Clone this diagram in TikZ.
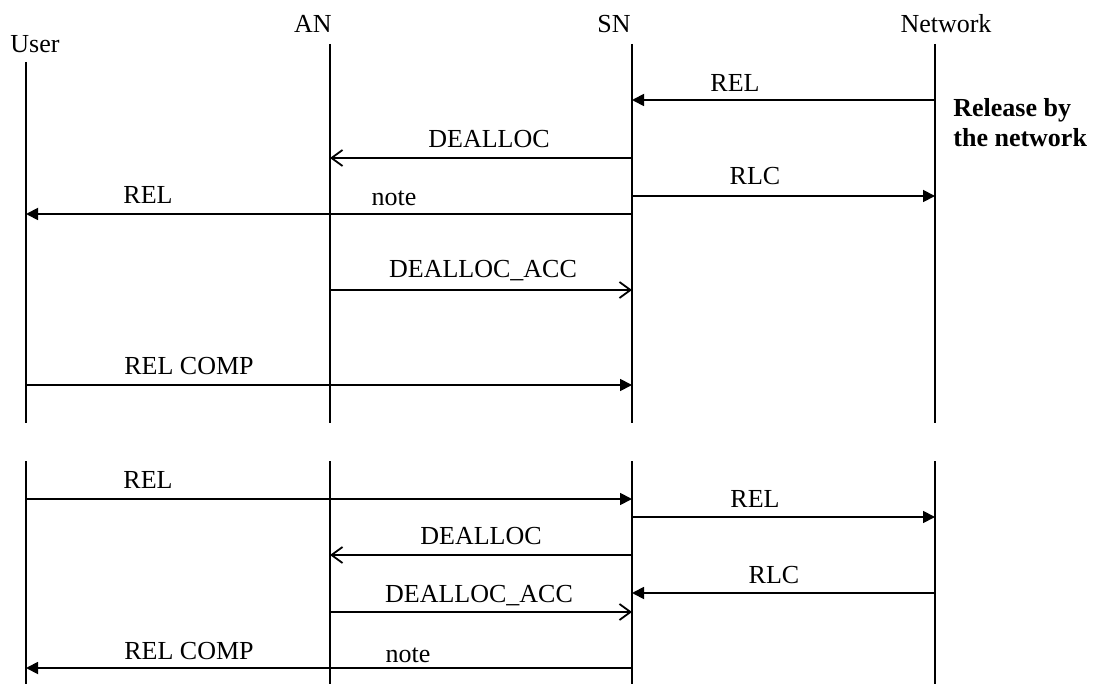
\documentclass[tikz,border=0pt]{standalone}
\usepackage{fontspec}
\setmainfont{Liberation Serif}
\usetikzlibrary{arrows.meta,calc}
\tikzset{
 life/.style={line width=1.1pt},
 msg/.style={line width=0.9pt,-{Triangle[length=6pt,width=6pt]}},
 ack/.style={line width=0.9pt,-{Straight Barb[length=5.5pt,width=8pt]}},
 lbl/.style={anchor=base,inner sep=0pt,font=\fontsize{13}{15}\selectfont}
}
\begin{document}
\begin{tikzpicture}[x=0.5pt,y=-0.5pt]
\useasboundingbox(0,0)rectangle(1093,684);
\coordinate(U)at(26,0);\coordinate(A)at(330,0);\coordinate(S)at(632,0);\coordinate(N)at(935,0);
% lifelines
\draw[life](U|-0,62)--(U|-0,423);\draw[life](A|-0,44)--(A|-0,423);
\draw[life](S|-0,44)--(S|-0,423);\draw[life](N|-0,44)--(N|-0,423);
\foreach \p in {U,A,S,N}{\draw[life](\p|-0,461)--(\p|-0,684);}
\node[lbl](hU)at(35,53){User};\node[lbl](hA)at(313,33){AN};
\node[lbl](hS)at(614,33){SN};\node[lbl](hN)at(946,33){Network};
% release by the network
\draw[msg](N|-0,100)--(S|-0,100);\node[lbl](m1)at(735,92){REL};
\draw[ack](S|-0,158)--(A|-0,158);\node[lbl](m2)at(489,148){DEALLOC};
\draw[msg](S|-0,196)--(N|-0,196);\node[lbl](m3)at(755,185){RLC};
\draw[msg](S|-0,214)--(U|-0,214);\node[lbl](m4)at(148,204){REL};\node[lbl](n1)at(394,206){note};
\draw[ack](A|-0,290)--(S|-0,290);\node[lbl](m5)at(483,278){DEALLOC\_ACC};
\draw[msg](U|-0,385)--(S|-0,385);\node[lbl](m6)at(189,374){REL COMP};
\node[lbl,anchor=base west,font=\fontsize{13}{15}\selectfont\bfseries](r1)at(953,117){Release by};
\node[lbl,anchor=base west,font=\fontsize{13}{15}\selectfont\bfseries](r2)at(953,147){the network};
% release by the user
\draw[msg](U|-0,499)--(S|-0,499);\node[lbl](k1)at(148,488){REL};
\draw[msg](S|-0,517)--(N|-0,517);\node[lbl](k2)at(755,507){REL};
\draw[ack](S|-0,555)--(A|-0,555);\node[lbl](k3)at(481,544){DEALLOC};
\draw[msg](N|-0,593)--(S|-0,593);\node[lbl](k4)at(774,583){RLC};
\draw[ack](A|-0,612)--(S|-0,612);\node[lbl](k5)at(479,602){DEALLOC\_ACC};
\draw[msg](S|-0,668)--(U|-0,668);\node[lbl](k6)at(189,659){REL COMP};\node[lbl](n2)at(408,662){note};
\end{tikzpicture}
\end{document}
